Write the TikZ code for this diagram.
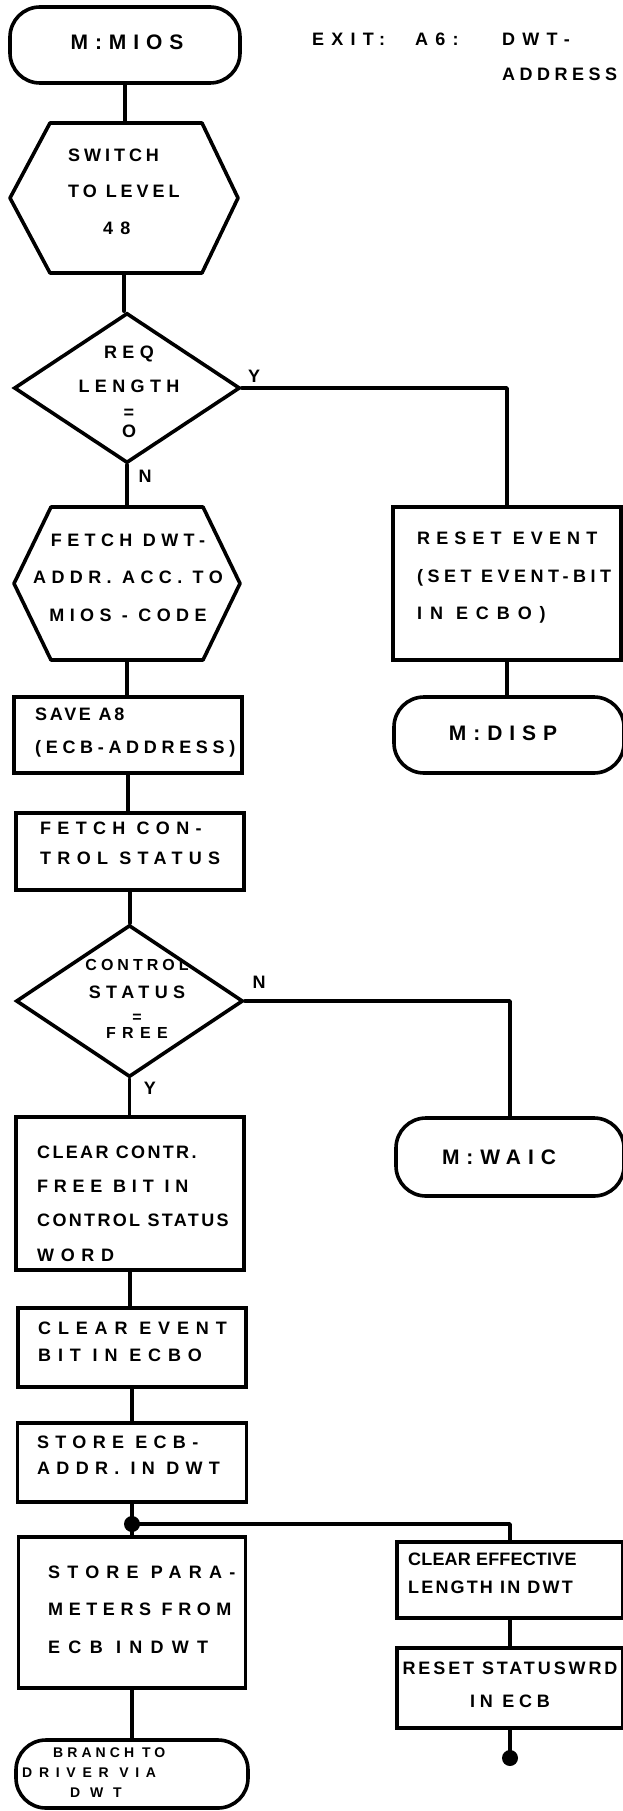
\documentclass[tikz,border=0pt]{standalone}
\usepackage{fontspec}
\setmainfont{Liberation Sans}
\newcommand\hf[3]{\fontsize{#1}{#2}\bfseries\addfontfeature{LetterSpace=#3}}
\newcommand\myls[2]{{\addfontfeature{LetterSpace=#1}#2}}
\usetikzlibrary{shapes.geometric,calc}
\begin{document}
\begin{tikzpicture}[x=1pt,y=-1pt,
  line/.style={line width=3.6pt, line join=round, line cap=round},
  box/.style={draw, line width=3.6pt, rectangle, inner sep=0pt},
  term/.style={draw, line width=3.6pt, rectangle, rounded corners=30pt, inner sep=0pt},
  hexa/.style={rectangle, inner sep=0pt, outer sep=0pt},
  dec/.style={draw, line width=3.6pt, diamond, inner sep=0pt},
  txt/.style={inner sep=0pt, align=left},
  ctxt/.style={inner sep=0pt, align=center},
  lbl/.style={inner sep=0pt, font=\hf{18}{18}{0}},
  dot/.style={circle, fill, inner sep=0pt, minimum size=16pt}]
\useasboundingbox (0,0) rectangle (623,1811);

% top terminal and exit note
\node[term, minimum width=230pt, minimum height=76pt] (t1) at (125,45) {};
\node[ctxt, font=\hf{21}{21}{33}] (t1t) at (127,42) {M:MIOS};
\node[txt, anchor=west, font=\hf{18}{18}{40}] (x1) at (312,39) {EXIT:};
\node[txt, anchor=west, font=\hf{18}{18}{40}] (x2) at (415,39) {A6:};
\node[txt, anchor=west, font=\hf{18}{18}{40}] (x3) at (502,39) {DWT-};
\node[txt, anchor=west, font=\hf{18}{18}{25}] (x4) at (502,74) {ADDRESS};

% hexagon 1
\node[hexa, minimum width=228pt, minimum height=150pt] (h1) at (124,198) {};
\draw[line] (h1.west) -- ([xshift=40pt]h1.north west) -- ([xshift=-36pt]h1.north east) -- (h1.east) -- ([xshift=-36pt]h1.south east) -- ([xshift=40pt]h1.south west) -- cycle;
\node[txt, anchor=north west, font=\hf{18}{36.5}{22}] (h1t) at (68,148.5) {SWITCH\\TO LEVEL\\\hspace{35pt}\myls{40}{48}};

% decision 1
\node[dec, minimum width=226pt, minimum height=150pt] (d1) at (127,388) {};
\node[ctxt, anchor=north, font=\hf{18}{18}{30}] (d1t) at (129,346) {REQ\\[16pt]LENGTH\\[7.8pt]=\\[1.2pt]O};

% hexagon 2
\node[hexa, minimum width=226pt, minimum height=153pt] (h2) at (127,583.5) {};
\draw[line] (h2.west) -- ([xshift=37pt]h2.north west) -- ([xshift=-37pt]h2.north east) -- (h2.east) -- ([xshift=-37pt]h2.south east) -- ([xshift=37pt]h2.south west) -- cycle;
\node[ctxt, anchor=north, font=\hf{18}{37.5}{30}] (h2t) at (128,533.5) {FETCH DWT-\\ADDR. ACC. TO\\MIOS - CODE};

% right branch 1
\node[box, minimum width=228pt, minimum height=153pt] (r1) at (507,583.5) {};
\node[txt, anchor=north west, font=\hf{18}{37.25}{30}] (r1t) at (417,532) {\myls{34}{RESET EVENT}\\\myls{25}{(SET EVENT-BIT}\\\myls{44}{IN ECBO)}};
\node[term, minimum width=230pt, minimum height=76pt] (t2) at (509,735) {};
\node[ctxt, font=\hf{21}{21}{33}] (t2t) at (503,733) {M:DISP};

% boxes
\node[box, minimum width=228pt, minimum height=76pt] (b1) at (128,735) {};
\node[txt, anchor=north west, font=\hf{18}{33.5}{26}] (b1t) at (35,707.5) {\myls{15}{SAVE A8}\\(ECB-ADDRESS)};

\node[box, minimum width=228pt, minimum height=77pt] (b2) at (130,851.5) {};
\node[txt, anchor=north west, font=\hf{18}{30}{35}] (b2t) at (40,821.5) {FETCH CON-\\TROL STATUS};

% decision 2
\node[dec, minimum width=227pt, minimum height=152pt] (d2) at (129.5,1001) {};
\node[ctxt, anchor=north, font=\hf{16}{16}{25}] (d2t) at (137,959) {CONTROL\\[11.8pt]{\hf{18}{18}{30}STATUS}\\[8.1pt]=\\[0.1pt]\myls{40}{FREE}};

\node[term, minimum width=228pt, minimum height=78pt] (t3) at (510,1157) {};
\node[ctxt, font=\hf{21}{21}{33}] (t3t) at (499,1157) {M:WAIC};

\node[box, minimum width=228pt, minimum height=153pt] (b3) at (130,1193.5) {};
\node[txt, anchor=north west, font=\hf{18}{34.3}{13}] (b3t) at (37,1145.5) {CLEAR CONTR.\\\myls{32}{FREE BIT IN}\\CONTROL STATUS\\\myls{37}{WORD}};

\node[box, minimum width=228pt, minimum height=79pt] (b4) at (132,1347.5) {};
\node[txt, anchor=north west, font=\hf{18}{27}{38}] (b4t) at (38,1321.5) {CLEAR EVENT\\BIT IN ECBO};

\node[box, minimum width=229pt, minimum height=79pt] (b5) at (132,1462.5) {};
\node[txt, anchor=north west, font=\hf{18}{26}{35}] (b5t) at (37,1435.5) {STORE ECB-\\ADDR. IN DWT};

\node[dot] (j1) at (132,1524) {};

\node[box, minimum width=227pt, minimum height=151pt] (b6) at (132,1612.5) {};
\node[txt, anchor=north west, font=\hf{18}{37.5}{38}] (b6t) at (48,1565.5) {\myls{40}{STORE PARA-}\\\myls{31}{METERS FROM}\\\myls{46}{ECB INDWT}};

\node[box, minimum width=226pt, minimum height=76pt] (b7) at (510,1580) {};
\node[txt, anchor=north west, font=\hf{18}{28}{1}] (b7t) at (408,1552.5) {CLEAR EFFECTIVE\\\myls{12}{LENGTH IN DWT}};

\node[box, minimum width=226pt, minimum height=80pt] (b8) at (510,1688) {};
\node[ctxt, anchor=north, font=\hf{18}{33}{16}] (b8t) at (510,1661.5) {RESET STATUSWRD\\\myls{26}{IN ECB}};

\node[dot] (j2) at (510,1758) {};

\node[term, minimum width=232pt, minimum height=68pt] (t4) at (132,1774) {};
\node[txt, anchor=north west, font=\hf{14}{19.75}{29}] (t4t) at (22,1748) {\hspace{31pt}BRANCH TO\\\myls{48}{DRIVER VIA}\\\hspace{48pt}\myls{70}{DWT}};

% labels
\node[lbl] (ly1) at (254,376) {Y};
\node[lbl] (ln1) at (145,476) {N};
\node[lbl] (ln2) at (259,982) {N};
\node[lbl] (ly2) at (150,1088) {Y};

% connectors
\draw[line] (t1.south) -- (t1.south |- h1.north);
\draw[line] (h1.south) -- (h1.south |- d1.north);
\draw[line] (d1.south) -- (d1.south |- h2.north);
\draw[line] (d1.east) -| (r1.north);
\draw[line] (r1.south) -- (r1.south |- t2.north);
\draw[line] (h2.south) -- (h2.south |- b1.north);
\draw[line] (b1.south) -- (b1.south |- b2.north);
\draw[line] (b2.south) -- (b2.south |- d2.north);
\draw[line] (d2.east) -| (t3.north);
\draw[line] (d2.south) -- (d2.south |- b3.north);
\draw[line] (b3.south) -- (b3.south |- b4.north);
\draw[line] (b4.south) -- (b4.south |- b5.north);
\draw[line] (b5.south) -- (j1.center) -- (j1 |- b6.north);
\draw[line] (j1.center) -| (b7.north);
\draw[line] (b7.south) -- (b7.south |- b8.north);
\draw[line] (b8.south) -- (j2.center);
\draw[line] (b6.south) -- (b6.south |- t4.north);
\end{tikzpicture}
\end{document}
